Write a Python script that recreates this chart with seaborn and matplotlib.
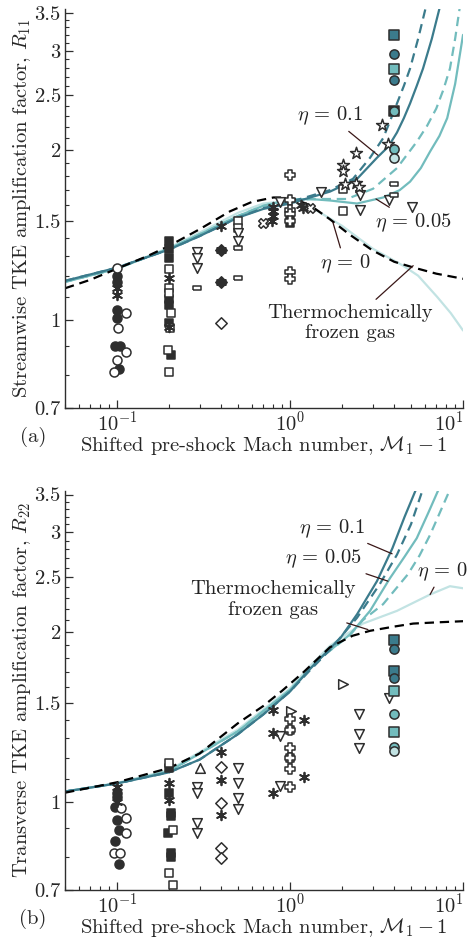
import matplotlib

matplotlib.use("Agg")
import matplotlib.pyplot as plt
import matplotlib.ticker as mticker
import numpy as np
import seaborn as sns

# ---- model curves, panel (a) R11 ----
A_FROZEN_X = [0.05, 0.07, 0.1, 0.15, 0.2, 0.3, 0.45, 0.6, 0.8, 1.0, 1.3, 1.7, 2.2, 3.0, 4.0, 5.2, 7.0, 10.0]
A_FROZEN_Y = [1.14, 1.18, 1.235, 1.30, 1.355, 1.45, 1.56, 1.62, 1.65, 1.65, 1.60, 1.51, 1.42, 1.33, 1.27, 1.24, 1.21, 1.185]

A_ETA0_X = [0.05, 0.1, 0.2, 0.3, 0.5, 0.7, 1.0, 1.4, 2.0, 3.0, 4.5, 5.5, 7.1, 8.5, 10.0]
A_ETA0_Y = [1.17, 1.235, 1.345, 1.43, 1.55, 1.61, 1.63, 1.57, 1.47, 1.34, 1.25, 1.20, 1.10, 1.03, 0.96]

A_ETA005_X = [0.05, 0.1, 0.2, 0.3, 0.5, 0.7, 1.0, 1.3, 1.7, 2.44, 3.45, 4.3, 4.94, 5.7, 6.45, 7.3, 8.1, 9.0, 10.0]
A_ETA005_Y = [1.17, 1.235, 1.34, 1.42, 1.53, 1.595, 1.635, 1.64, 1.63, 1.61, 1.65, 1.70, 1.76, 1.86, 1.99, 2.12, 2.28, 2.62, 3.2]
A_ETA005D_X = [0.05, 0.1, 0.2, 0.3, 0.5, 0.7, 1.0, 1.5, 2.13, 3.02, 4.15, 5.4, 6.2, 7.0, 7.7, 8.4, 9.0, 9.6]
A_ETA005D_Y = [1.17, 1.235, 1.34, 1.42, 1.53, 1.595, 1.635, 1.64, 1.64, 1.71, 1.86, 2.07, 2.21, 2.37, 2.56, 2.79, 3.15, 3.6]

A_ETA01_X = [0.05, 0.1, 0.2, 0.3, 0.5, 0.7, 1.0, 1.7, 2.44, 3.18, 3.7, 4.15, 4.55, 4.94, 5.4, 5.87, 6.6, 7.37]
A_ETA01_Y = [1.175, 1.24, 1.335, 1.41, 1.52, 1.575, 1.61, 1.69, 1.78, 1.94, 2.03, 2.15, 2.28, 2.42, 2.6, 2.79, 3.15, 3.6]
A_ETA01D_X = [0.05, 0.1, 0.2, 0.3, 0.5, 0.7, 1.0, 1.7, 2.31, 2.9, 3.45, 3.8, 4.15, 4.55, 4.94, 5.5, 6.2]
A_ETA01D_Y = [1.175, 1.24, 1.335, 1.41, 1.52, 1.58, 1.62, 1.70, 1.78, 1.94, 2.10, 2.26, 2.42, 2.6, 2.79, 3.15, 3.66]

# ---- model curves, panel (b) R22 ----
B_FROZEN_X = [0.05, 0.1, 0.2, 0.3, 0.5, 0.7, 0.9, 1.2, 1.7, 2.3, 2.9, 4.0, 5.15, 7.0, 10.0]
B_FROZEN_Y = [1.04, 1.085, 1.15, 1.22, 1.38, 1.48, 1.575, 1.70, 1.88, 1.97, 2.01, 2.045, 2.07, 2.08, 2.09]

B_ETA0_X = [0.05, 0.1, 0.2, 0.5, 1.0, 1.3, 1.7, 2.0, 2.64, 4.15, 6.45, 8.4, 10.0]
B_ETA0_Y = [1.045, 1.082, 1.14, 1.345, 1.59, 1.74, 1.89, 1.96, 2.07, 2.18, 2.33, 2.41, 2.39]

B_ETA005_X = [0.05, 0.1, 0.2, 0.5, 1.0, 1.5, 2.22, 2.9, 3.78, 4.6, 5.4, 6.3, 7.3]
B_ETA005_Y = [1.045, 1.08, 1.135, 1.335, 1.58, 1.80, 1.98, 2.18, 2.49, 2.72, 2.93, 3.25, 3.6]
B_ETA005D_X = [0.05, 0.1, 0.2, 0.5, 1.0, 1.5, 2.2, 2.64, 3.45, 4.8, 5.6, 6.45, 7.5, 8.5]
B_ETA005D_Y = [1.045, 1.08, 1.135, 1.335, 1.58, 1.80, 1.97, 2.10, 2.24, 2.53, 2.73, 2.97, 3.3, 3.6]

B_ETA01_X = [0.05, 0.1, 0.2, 0.3, 0.5, 0.7, 1.0, 1.3, 1.7, 1.95, 2.44, 3.18, 3.9, 4.6, 5.4]
B_ETA01_Y = [1.045, 1.08, 1.13, 1.19, 1.32, 1.43, 1.57, 1.72, 1.87, 1.95, 2.15, 2.46, 2.81, 3.2, 3.6]
B_ETA01D_X = [0.05, 0.1, 0.2, 0.3, 0.5, 0.7, 1.0, 1.3, 1.7, 2.44, 3.3, 4.15, 5.0, 5.9]
B_ETA01D_Y = [1.045, 1.08, 1.13, 1.19, 1.32, 1.43, 1.57, 1.71, 1.86, 2.12, 2.43, 2.74, 3.1, 3.6]

# ---- reference data, panel (a) ----
A_FCIRC_X = [0.1, 0.1, 0.1, 0.1, 0.097, 0.104, 0.102]
A_FCIRC_Y = [1.20, 1.17, 1.045, 1.008, 0.90, 0.90, 0.82]
A_OCIRC_X = [0.1, 0.113, 0.101, 0.113, 0.1, 0.096]
A_OCIRC_Y = [1.24, 1.03, 0.968, 0.88, 0.85, 0.81]
A_FSQ_X = [0.2, 0.2, 0.2, 0.2, 0.2, 0.2, 0.205, 1.0, 1.0]
A_FSQ_Y = [1.38, 1.34, 1.29, 1.09, 1.063, 0.99, 0.87, 1.53, 1.49]
A_OSQ_X = [0.2, 0.2, 0.2, 0.205, 0.203, 0.197, 0.2, 0.5, 0.5, 2.02, 2.02]
A_OSQ_Y = [1.235, 1.14, 1.12, 1.03, 0.968, 0.885, 0.81, 1.50, 1.46, 1.71, 1.56]
A_AST_X = [0.1, 0.1, 0.2, 0.2, 0.4, 0.4, 0.4, 0.8, 0.8, 0.8, 0.79, 1.19, 1.15]
A_AST_Y = [1.14, 1.11, 1.19, 0.975, 1.47, 1.33, 1.17, 1.59, 1.56, 1.53, 1.50, 1.58, 1.60]
A_TDOWN_X = [0.29, 0.29, 0.29, 0.5, 0.5, 0.88, 1.51, 2.54, 2.54, 3.73, 5.06]
A_TDOWN_Y = [1.32, 1.29, 1.24, 1.43, 1.38, 1.62, 1.69, 1.67, 1.57, 1.63, 1.59]
A_RECT_X = [0.29, 0.5, 0.5, 3.99, 3.99]
A_RECT_Y = [1.14, 1.345, 1.19, 1.74, 1.67]
A_FDIA_X = [0.4, 0.4]
A_FDIA_Y = [1.33, 1.17]
A_ODIA_X = [0.4]
A_ODIA_Y = [0.99]
A_CROSS_X = [0.70, 1.3]
A_CROSS_Y = [1.49, 1.58]
A_PLUS_X = [1.0, 1.0, 1.0, 1.0, 1.0, 1.0, 1.0]
A_PLUS_Y = [1.81, 1.63, 1.57, 1.54, 1.50, 1.22, 1.185]
A_STAR_X = [3.40, 3.68, 2.41, 2.02, 2.02, 2.08, 2.41, 2.5]
A_STAR_Y = [2.22, 2.05, 1.98, 1.88, 1.84, 1.74, 1.75, 1.72]

# simulations at M1 - 1 = 4 (colour by eta)
A_DSQ_Y = [3.20]
A_DCIRC_Y = [2.96, 2.66]
A_MSQ_Y = [2.79]
A_KSQ_Y = [2.35]
A_MCIRC_Y = [2.35, 2.01]
A_LCIRC_Y = [1.94]

# ---- reference data, panel (b) ----
B_FCIRC_X = [0.1, 0.1, 0.097, 0.1, 0.103, 0.097, 0.102]
B_FCIRC_Y = [1.04, 1.02, 0.98, 0.93, 0.893, 0.854, 0.778]
B_OCIRC_X = [0.105, 0.113, 0.113, 0.096, 0.104]
B_OCIRC_Y = [0.976, 0.937, 0.882, 0.813, 0.813]
B_FSQ_X = [0.2, 0.2, 0.205, 0.205, 0.197, 0.205, 0.205]
B_FSQ_Y = [1.15, 1.04, 0.956, 0.945, 0.882, 0.813, 0.80]
B_OSQ_X = [0.2, 0.21, 0.2, 0.21, 1.0, 1.0]
B_OSQ_Y = [1.176, 0.893, 0.75, 0.714, 1.345, 1.20]
B_AST_X = [0.1, 0.1, 0.2, 0.2, 0.4, 0.4, 0.4, 0.8, 1.2, 0.8, 1.2, 0.8]
B_AST_Y = [1.063, 1.00, 1.08, 1.01, 1.225, 1.093, 0.948, 1.458, 1.40, 1.328, 1.107, 1.04]
B_TUP_X = [0.3]
B_TUP_Y = [1.152]
B_TDOWN_X = [0.29, 0.29, 0.29, 0.29, 0.5, 0.5, 0.5, 0.5, 0.88, 0.88, 2.5, 2.5, 2.5, 3.73]
B_TDOWN_Y = [1.063, 1.04, 0.918, 0.882, 1.152, 1.08, 1.016, 0.972, 1.31, 1.07, 1.43, 1.32, 1.25, 1.53]
B_ODIA_X = [0.4, 0.4, 0.4, 0.4]
B_ODIA_Y = [1.157, 0.996, 0.83, 0.797]
B_TRIGHT_X = [1.01, 2.02]
B_TRIGHT_Y = [1.45, 1.62]
B_PLUS_X = [1.0, 1.0, 1.0, 1.0, 1.0, 1.0]
B_PLUS_Y = [1.406, 1.345, 1.25, 1.20, 1.143, 1.063]

B_DSQ_Y = [1.94, 1.71]
B_DCIRC_Y = [1.87, 1.66]
B_MSQ_Y = [1.575, 1.33]
B_MCIRC_Y = [1.43, 1.255]
B_LCIRC_Y = [1.23]

SIM_X = 4.0

X_TICKS = [0.1, 1, 10]
Y_TICKS = [0.7, 1, 1.5, 2, 2.5, 3, 3.5]
Y_TICK_LABELS = ["0.7", "1", "1.5", "2", "2.5", "3", "3.5"]

DARK = "#3b7b8c"
MEDIUM = "#72bcbd"
LIGHT = "#c2e3e3"
INK = "#2e2e2e"
LEADER = "#3a1717"
FS = 14.8

RECT = [(-1, -0.42), (1, -0.42), (1, 0.42), (-1, 0.42), (-1, -0.42)]
ASTERISK = (6, 2, 0)


def draw_curve(ax, x, y, color, dashed=False):
    style = (0, (4.2, 2.6)) if dashed else "-"
    sns.lineplot(x=x, y=y, ax=ax, color=color, lw=1.6, linestyle=style,
                 sort=False, estimator=None, zorder=2)


def draw_points(ax, x, y, marker, face, edge=INK, size=42, lw=1.1):
    if marker == ASTERISK:
        sns.scatterplot(x=x, y=y, ax=ax, marker=marker, color=edge, s=size,
                        linewidth=lw + 0.2, zorder=3)
    else:
        sns.scatterplot(x=x, y=y, ax=ax, marker=marker, color=face,
                        edgecolor=edge, s=size, linewidth=lw, zorder=3)


def leader(ax, text, xy, xytext):
    ax.annotate(text, xy=xy, xytext=xytext, ha="center", va="center",
                fontsize=FS, color="#222222",
                arrowprops=dict(arrowstyle="-", color=LEADER, lw=0.9,
                                shrinkA=1, shrinkB=0))


def style_axes(ax, ylabel, tag):
    ax.set_xscale("log")
    ax.set_yscale("log")
    ax.set_xlim(0.05, 10)
    ax.set_ylim(0.7, 3.55)
    ax.xaxis.set_major_locator(mticker.FixedLocator(X_TICKS))
    ax.xaxis.set_major_formatter(mticker.LogFormatterSciNotation())
    ax.yaxis.set_major_locator(mticker.FixedLocator(Y_TICKS))
    ax.yaxis.set_major_formatter(mticker.FixedFormatter(Y_TICK_LABELS))
    ax.yaxis.set_minor_locator(mticker.FixedLocator(np.arange(0.7, 3.56, 0.1)))
    ax.yaxis.set_minor_formatter(mticker.NullFormatter())
    ax.tick_params(which="both", direction="in", labelsize=FS, color=INK)
    ax.tick_params(which="major", length=5.5, width=0.9, pad=3)
    ax.tick_params(axis="x", which="major", pad=2)
    ax.tick_params(which="minor", length=3, width=0.8)
    # keep the 10^1 label inside the figure edge
    ax.xaxis.get_major_ticks(len(X_TICKS))[-1].label1.set_horizontalalignment("right")
    for side in ("top", "right"):
        ax.spines[side].set_visible(False)
    for side in ("left", "bottom"):
        ax.spines[side].set_linewidth(1.0)
        ax.spines[side].set_color(INK)
    ax.set_xlabel(r"Shifted pre-shock Mach number, $\mathcal{M}_1-1$",
                  fontsize=FS, labelpad=-1)
    ax.set_ylabel(ylabel, fontsize=FS, labelpad=1)
    ax.text(-0.08, -0.072, tag, transform=ax.transAxes, fontsize=FS,
            ha="center", va="center")


sns.set_theme(style="ticks")
plt.rcParams["font.family"] = "serif"
plt.rcParams["font.serif"] = ["cmr10", "DejaVu Serif"]
plt.rcParams["mathtext.fontset"] = "cm"
plt.rcParams["axes.formatter.use_mathtext"] = True

fig = plt.figure(figsize=(4.69, 9.38), dpi=100)
ax_a = fig.add_axes([0.1386, 0.565, 0.8487, 0.425])
ax_b = fig.add_axes([0.1386, 0.0512, 0.8487, 0.4253])

# panel (a)
draw_curve(ax_a, A_ETA0_X, A_ETA0_Y, LIGHT)
draw_curve(ax_a, A_ETA005_X, A_ETA005_Y, MEDIUM)
draw_curve(ax_a, A_ETA005D_X, A_ETA005D_Y, MEDIUM, dashed=True)
draw_curve(ax_a, A_ETA01_X, A_ETA01_Y, DARK)
draw_curve(ax_a, A_ETA01D_X, A_ETA01D_Y, DARK, dashed=True)
draw_curve(ax_a, A_FROZEN_X, A_FROZEN_Y, "black", dashed=True)

draw_points(ax_a, A_FCIRC_X, A_FCIRC_Y, "o", INK)
draw_points(ax_a, A_OCIRC_X, A_OCIRC_Y, "o", "white")
draw_points(ax_a, A_FSQ_X, A_FSQ_Y, "s", INK, size=38)
draw_points(ax_a, A_OSQ_X, A_OSQ_Y, "s", "white", size=38)
draw_points(ax_a, A_TDOWN_X, A_TDOWN_Y, "v", "white", size=48)
draw_points(ax_a, A_RECT_X, A_RECT_Y, RECT, "white", size=40)
draw_points(ax_a, A_FDIA_X, A_FDIA_Y, "D", INK, size=34)
draw_points(ax_a, A_ODIA_X, A_ODIA_Y, "D", "white", size=34)
draw_points(ax_a, A_CROSS_X, A_CROSS_Y, "X", "white", size=48)
draw_points(ax_a, A_PLUS_X, A_PLUS_Y, "P", "white", size=48)
draw_points(ax_a, A_STAR_X, A_STAR_Y, "*", "white", size=80)
draw_points(ax_a, A_AST_X, A_AST_Y, ASTERISK, INK, size=48)
draw_points(ax_a, [SIM_X] * len(A_DSQ_Y), A_DSQ_Y, "s", DARK, size=44)
draw_points(ax_a, [SIM_X] * len(A_DCIRC_Y), A_DCIRC_Y, "o", DARK, size=44)
draw_points(ax_a, [SIM_X] * len(A_MSQ_Y), A_MSQ_Y, "s", MEDIUM, size=44)
draw_points(ax_a, [SIM_X] * len(A_KSQ_Y), A_KSQ_Y, "s", INK, size=44)
draw_points(ax_a, [SIM_X] * len(A_MCIRC_Y), A_MCIRC_Y, "o", MEDIUM, size=44)
draw_points(ax_a, [SIM_X] * len(A_LCIRC_Y), A_LCIRC_Y, "o", LIGHT, size=44)

leader(ax_a, r"$\eta\,=\,0.1$", (3.22, 1.96), (1.70, 2.30))
leader(ax_a, r"$\eta\,=\,0.05$", (3.14, 1.64), (5.2, 1.49))
leader(ax_a, r"$\eta\,=\,0$", (1.77, 1.49), (2.08, 1.26))
leader(ax_a, "Thermochemically\nfrozen gas", (5.15, 1.25), (2.22, 0.99))
style_axes(ax_a, r"Streamwise TKE amplification factor, $R_{11}$", "(a)")

# panel (b)
draw_curve(ax_b, B_ETA0_X, B_ETA0_Y, LIGHT)
draw_curve(ax_b, B_ETA005_X, B_ETA005_Y, MEDIUM)
draw_curve(ax_b, B_ETA005D_X, B_ETA005D_Y, MEDIUM, dashed=True)
draw_curve(ax_b, B_ETA01_X, B_ETA01_Y, DARK)
draw_curve(ax_b, B_ETA01D_X, B_ETA01D_Y, DARK, dashed=True)
draw_curve(ax_b, B_FROZEN_X, B_FROZEN_Y, "black", dashed=True)

draw_points(ax_b, B_FCIRC_X, B_FCIRC_Y, "o", INK)
draw_points(ax_b, B_OCIRC_X, B_OCIRC_Y, "o", "white")
draw_points(ax_b, B_FSQ_X, B_FSQ_Y, "s", INK, size=38)
draw_points(ax_b, B_OSQ_X, B_OSQ_Y, "s", "white", size=38)
draw_points(ax_b, B_TUP_X, B_TUP_Y, "^", "white", size=48)
draw_points(ax_b, B_TDOWN_X, B_TDOWN_Y, "v", "white", size=48)
draw_points(ax_b, B_ODIA_X, B_ODIA_Y, "D", "white", size=34)
draw_points(ax_b, B_TRIGHT_X, B_TRIGHT_Y, ">", "white", size=48)
draw_points(ax_b, B_PLUS_X, B_PLUS_Y, "P", "white", size=48)
draw_points(ax_b, B_AST_X, B_AST_Y, ASTERISK, INK, size=48)
draw_points(ax_b, [SIM_X] * len(B_DSQ_Y), B_DSQ_Y, "s", DARK, size=44)
draw_points(ax_b, [SIM_X] * len(B_DCIRC_Y), B_DCIRC_Y, "o", DARK, size=44)
draw_points(ax_b, [SIM_X] * len(B_MSQ_Y), B_MSQ_Y, "s", MEDIUM, size=44)
draw_points(ax_b, [SIM_X] * len(B_MCIRC_Y), B_MCIRC_Y, "o", MEDIUM, size=44)
draw_points(ax_b, [SIM_X] * len(B_LCIRC_Y), B_LCIRC_Y, "o", LIGHT, size=44)

leader(ax_b, r"$\eta\,=\,0.1$", (3.89, 2.75), (1.75, 3.05))
leader(ax_b, r"$\eta\,=\,0.05$", (3.68, 2.46), (1.55, 2.69))
leader(ax_b, r"$\eta\,=\,0$", (6.45, 2.33), (7.6, 2.56))
leader(ax_b, "Thermochemically\nfrozen gas", (2.82, 2.02), (0.80, 2.28))
style_axes(ax_b, r"Transverse TKE amplification factor, $R_{22}$", "(b)")

fig.savefig("out.png", dpi=100)
